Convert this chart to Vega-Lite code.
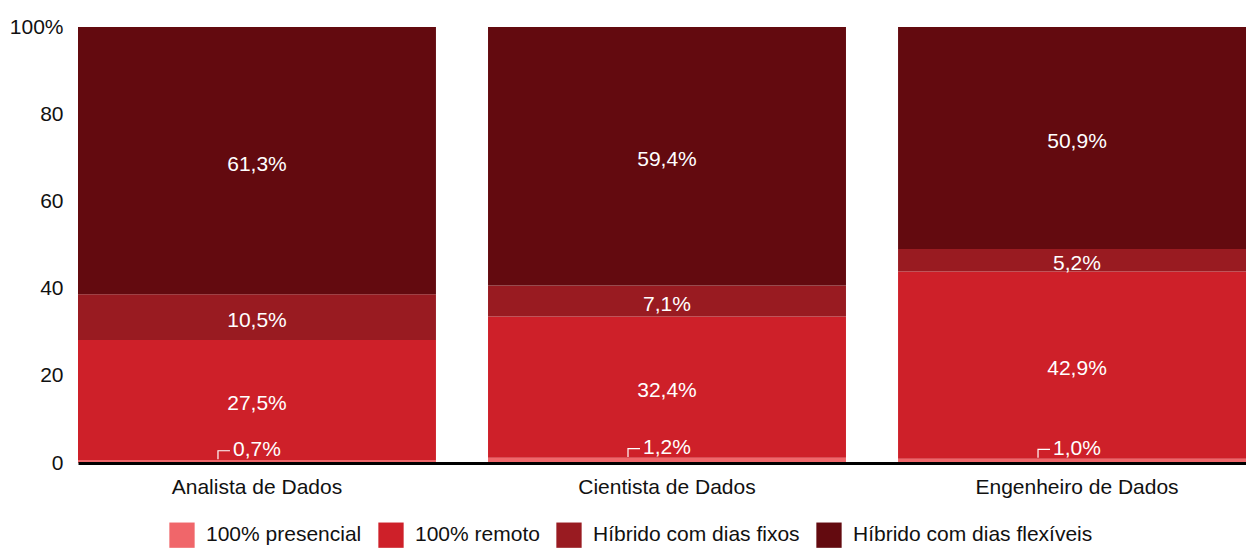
{
  "$schema": "https://vega.github.io/schema/vega-lite/v6.json",
  "width": 1178,
  "height": 436,
  "autosize": {"type": "none"},
  "padding": {"left": 78, "top": 27, "right": 0, "bottom": 86},
  "config": {
    "locale": {"number": {"decimal": ",", "thousands": ".", "grouping": [3], "currency": ["R$", ""]}},
    "view": {"stroke": null},
    "font": "Liberation Sans"
  },
  "data": {
    "values": [
      {"cargo": "Analista de Dados", "tipo": "100% presencial", "pct": 0.007},
      {"cargo": "Analista de Dados", "tipo": "100% remoto", "pct": 0.275},
      {"cargo": "Analista de Dados", "tipo": "Híbrido com dias fixos", "pct": 0.105},
      {"cargo": "Analista de Dados", "tipo": "Híbrido com dias flexíveis", "pct": 0.613},
      {"cargo": "Cientista de Dados", "tipo": "100% presencial", "pct": 0.012},
      {"cargo": "Cientista de Dados", "tipo": "100% remoto", "pct": 0.324},
      {"cargo": "Cientista de Dados", "tipo": "Híbrido com dias fixos", "pct": 0.071},
      {"cargo": "Cientista de Dados", "tipo": "Híbrido com dias flexíveis", "pct": 0.594},
      {"cargo": "Engenheiro de Dados", "tipo": "100% presencial", "pct": 0.010},
      {"cargo": "Engenheiro de Dados", "tipo": "100% remoto", "pct": 0.429},
      {"cargo": "Engenheiro de Dados", "tipo": "Híbrido com dias fixos", "pct": 0.052},
      {"cargo": "Engenheiro de Dados", "tipo": "Híbrido com dias flexíveis", "pct": 0.509}
    ]
  },
  "encoding": {
    "x": {
      "field": "cargo",
      "type": "nominal",
      "sort": null,
      "scale": {"paddingInner": 0.127, "paddingOuter": 0},
      "axis": {
        "title": null,
        "labelAngle": 0,
        "ticks": false,
        "domainColor": "#000000",
        "domainWidth": 3,
        "labelFontSize": 21,
        "labelPadding": 13,
        "labelLimit": 400,
        "labelColor": "#111111",
        "zindex": 1
      }
    }
  },
  "layer": [
    {
      "mark": {"type": "bar", "clip": true},
      "encoding": {
        "y": {
          "field": "pct",
          "type": "quantitative",
          "stack": "zero",
          "scale": {"domain": [0, 1]},
          "axis": {
            "values": [0, 0.2, 0.4, 0.6, 0.8, 1],
            "format": ".0%",
            "labelExpr": "datum.value >= 1 ? datum.label : replace(datum.label, '%', '')",
            "domain": false,
            "ticks": false,
            "grid": false,
            "title": null,
            "labelFontSize": 21,
            "labelColor": "#111111",
            "labelPadding": 15
          }
        },
        "order": {"field": "tipo", "sort": "ascending"},
        "color": {
          "field": "tipo",
          "type": "nominal",
          "scale": {
            "domain": ["100% presencial", "100% remoto", "Híbrido com dias fixos", "Híbrido com dias flexíveis"],
            "range": ["#F0666A", "#CE2029", "#991B21", "#630A0F"]
          },
          "legend": {
            "orient": "none",
            "legendX": 91,
            "legendY": 495,
            "direction": "horizontal",
            "title": null,
            "symbolType": "square",
            "symbolSize": 640,
            "symbolStrokeWidth": 0,
            "symbolOpacity": 1,
            "labelFontSize": 21,
            "labelLimit": 400,
            "labelColor": "#111111",
            "columnPadding": 16,
            "labelOffset": 11
          }
        }
      }
    },
    {
      "mark": {"type": "text", "color": "white", "fontSize": 21, "baseline": "middle", "dy": 4},
      "encoding": {
        "y": {"field": "pct", "type": "quantitative", "stack": "zero", "bandPosition": 0.5},
        "order": {"field": "tipo", "sort": "ascending"},
        "text": {"field": "pct", "type": "quantitative", "format": ".1%"},
        "opacity": {"condition": {"test": "datum.tipo == '100% presencial'", "value": 0}, "value": 1},
        "detail": {"field": "tipo"}
      }
    },
    {
      "transform": [{"filter": "datum.tipo == '100% presencial'"}],
      "mark": {"type": "text", "color": "white", "fontSize": 21, "baseline": "middle", "dy": -10},
      "encoding": {
        "y": {"field": "pct", "type": "quantitative"},
        "text": {"field": "pct", "type": "quantitative", "format": ".1%"}
      }
    },
    {
      "transform": [{"filter": "datum.tipo == '100% presencial'"}],
      "mark": {
        "type": "point",
        "shape": "M -1 0.7 L -1 -0.7 L 1 -0.7",
        "size": 144,
        "filled": false,
        "stroke": "white",
        "strokeWidth": 1.2,
        "opacity": 1,
        "xOffset": -33,
        "yOffset": -5
      },
      "encoding": {
        "y": {"field": "pct", "type": "quantitative"}
      }
    }
  ]
}
